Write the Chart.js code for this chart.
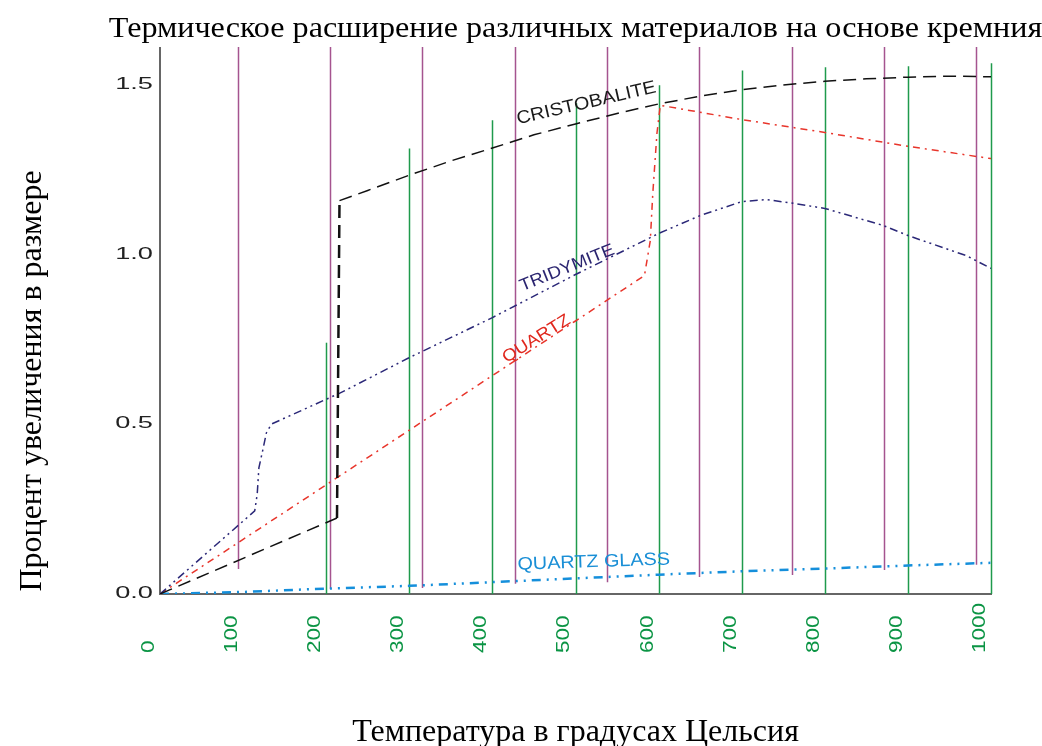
<!DOCTYPE html>
<html lang="ru">
<head>
<meta charset="UTF-8">
<title>Термическое расширение</title>
<script src="https://cdn.jsdelivr.net/npm/chart.js"></script>
<style>
body{margin:0;background:#fff}
#wrap{width:1042px;height:746px}
</style>
</head>
<body>
<div id="wrap"><canvas id="c" width="1042" height="746"></canvas></div>
<script>
/* --- данные --- */
const cristobaliteT=[0,213,216,250,300,350,400,450,500,550,600,650,700,750,800,850,900,950,1000];
const cristobaliteV=[0,0.224,1.16,1.19,1.235,1.277,1.315,1.354,1.386,1.417,1.445,1.468,1.487,1.501,1.512,1.519,1.524,1.527,1.525];

const tridymiteT=[0,114,117,119,124,128,134,180,217,300,400,500,600,650,700,730,765,800,870,900,970,1000];
const tridymiteV=[0,0.245,0.295,0.372,0.428,0.475,0.501,0.552,0.593,0.697,0.815,0.942,1.063,1.116,1.157,1.163,1.151,1.137,1.087,1.057,0.998,0.96];

const quartzT=[0,100,200,300,400,500,583,590,593,598,602,700,800,900,1000];
const quartzV=[0,0.161,0.322,0.483,0.644,0.805,0.939,1.042,1.181,1.358,1.441,1.399,1.361,1.32,1.284];

const glassT=[0,100,200,300,400,500,600,700,800,900,1000];
const glassV=[0,0.006,0.016,0.024,0.035,0.046,0.057,0.067,0.075,0.084,0.092];

// вертикальные отметки: зелёные — °C, сиреневые — °F
const celsiusMarks=[200,300,400,500,600,700,800,900,1000];
const celsiusMarkTop=[0.741,1.314,1.397,1.447,1.5,1.544,1.553,1.556,1.565];
const fahrenheitMarks=[200,400,600,800,1000,1200,1400,1600,1800];
const fahrenheitMarkBottom=[0.074,0.015,0.018,0.03,0.035,0.05,0.056,0.071,0.086];

const xTicks=[0,100,200,300,400,500,600,700,800,900,1000];
const yTicks=[0,0.5,1.0,1.5];

const titleText='Термическое расширение различных материалов на основе кремния';
const xTitle='Температура в градусах Цельсия';
const yTitle='Процент увеличения в размере';

/* подписи кривых: точка привязки (°C, %) и наклон */
const curveLabels=[
  {text:'CRISTOBALITE',x:513,y:1.447,angle:-13,color:'#1a1a1a',size:18},
  {text:'TRIDYMITE',x:490,y:0.961,angle:-22,color:'#2b2570',size:17},
  {text:'QUARTZ',x:453,y:0.752,angle:-32,color:'#e0281e',size:17},
  {text:'QUARTZ GLASS',x:522,y:0.094,angle:-2,color:'#1a8fd6',size:18}
];

const pts=(t,v)=>t.map((x,i)=>({x:x,y:v[i]}));
const fToC=f=>(f-32)*5/9;

function stretched(ctx,text,x,y,angle,sx,align,base){
  ctx.save();ctx.translate(x,y);ctx.rotate(angle*Math.PI/180);ctx.scale(sx,1);
  ctx.textAlign=align;ctx.textBaseline=base;ctx.fillText(text,0,0);ctx.restore();
}

const decor={
  id:'decor',
  beforeDatasetsDraw(chart){
    const ctx=chart.ctx,xs=chart.scales.x,ys=chart.scales.y,a=chart.chartArea;
    ctx.save();
    ctx.lineWidth=1.5;
    ctx.strokeStyle='#a5548f';
    fahrenheitMarks.forEach((f,i)=>{
      const px=Math.round(xs.getPixelForValue(fToC(f)))+0.5;
      ctx.beginPath();ctx.moveTo(px,a.top-1);ctx.lineTo(px,ys.getPixelForValue(fahrenheitMarkBottom[i]));ctx.stroke();
    });
    ctx.strokeStyle='#1f9a4c';
    celsiusMarks.forEach((c,i)=>{
      const px=Math.round(xs.getPixelForValue(c))+0.5;
      ctx.beginPath();ctx.moveTo(px,ys.getPixelForValue(celsiusMarkTop[i]));ctx.lineTo(px,a.bottom);ctx.stroke();
    });
    ctx.restore();
  },
  afterDraw(chart){
    const ctx=chart.ctx,xs=chart.scales.x,ys=chart.scales.y,a=chart.chartArea;
    const mid=(a.left+a.right)/2;
    ctx.save();
    ctx.fillStyle='#000';
    ctx.font='30px "Liberation Serif"';
    stretched(ctx,titleText,mid,37,0,1.07,'center','alphabetic');
    ctx.font='32px "Liberation Serif"';
    stretched(ctx,xTitle,mid,741,0,1,'center','alphabetic');
    stretched(ctx,yTitle,41,381,-90,1,'center','alphabetic');

    ctx.fillStyle='#222';
    ctx.font='17px "Liberation Sans"';
    yTicks.forEach(v=>{
      stretched(ctx,v.toFixed(1),153,ys.getPixelForValue(v)-1,0,1.6,'right','middle');
    });
    ctx.fillStyle='#0b9444';
    ctx.font='18px "Liberation Sans"';
    xTicks.forEach(v=>{
      stretched(ctx,String(v),xs.getPixelForValue(v)-11,653,-90,1.25,'left','middle');
    });

    curveLabels.forEach(l=>{
      ctx.fillStyle=l.color;
      ctx.font=l.size+'px "Liberation Sans"';
      stretched(ctx,l.text,xs.getPixelForValue(l.x),ys.getPixelForValue(l.y),l.angle,1.1,'center','middle');
    });
    ctx.restore();
  }
};

new Chart(document.getElementById('c'),{
  type:'line',
  data:{datasets:[
    {label:'CRISTOBALITE',data:pts(cristobaliteT,cristobaliteV),borderColor:'#111',borderWidth:1.5,
     borderDash:[13,7],
     segment:{borderWidth:s=>(s.p1.parsed.x-s.p0.parsed.x<5?2.5:1.5)}},
    {label:'TRIDYMITE',data:pts(tridymiteT,tridymiteV),borderColor:'#2b2878',borderWidth:1.5,
     borderDash:[8,4,2,4,2,4]},
    {label:'QUARTZ',data:pts(quartzT,quartzV),borderColor:'#e8352b',borderWidth:1.5,
     borderDash:[7,5,2,5]},
    {label:'QUARTZ GLASS',data:pts(glassT,glassV),borderColor:'#158fdb',borderWidth:2.5,
     borderDash:[9,6,2,6,2,6]}
  ]},
  options:{
    responsive:false,animation:false,
    layout:{padding:{left:160,top:48,right:51,bottom:152}},
    elements:{point:{radius:0},line:{tension:0,fill:false}},
    plugins:{legend:{display:false},tooltip:{enabled:false},title:{display:false}},
    scales:{
      x:{type:'linear',min:0,max:1000,
         grid:{display:false,drawTicks:false},ticks:{display:false},
         border:{display:true,color:'#666',width:2}},
      y:{type:'linear',min:0,max:1.61,
         grid:{display:false,drawTicks:false},ticks:{display:false},
         border:{display:true,color:'#666',width:2}}
    }
  },
  plugins:[decor]
});
</script>
</body>
</html>
